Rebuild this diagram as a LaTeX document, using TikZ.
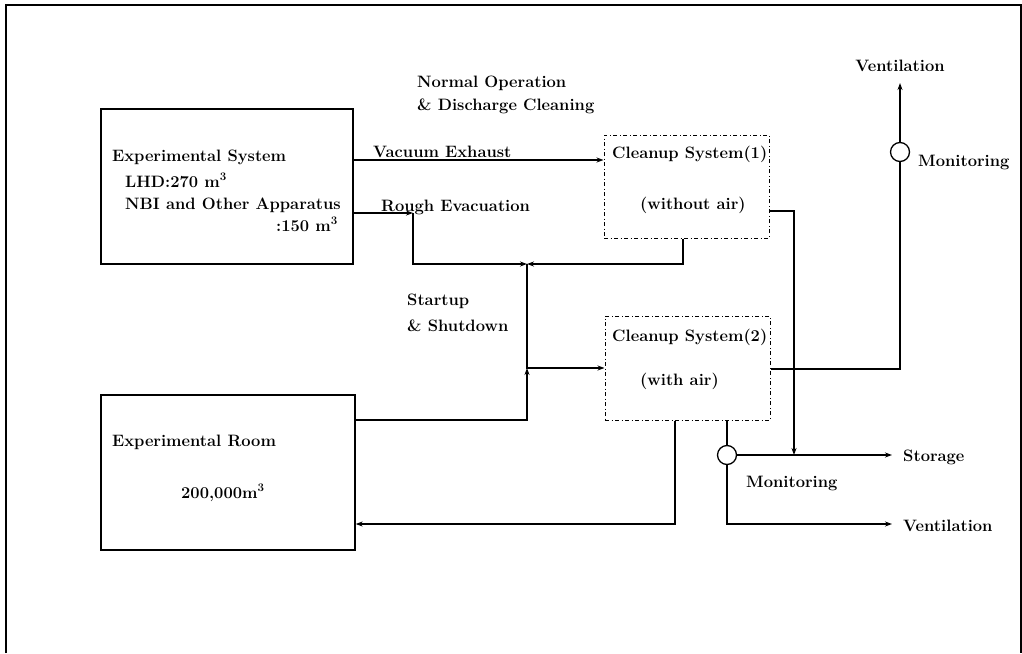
\documentclass[tikz,border=0pt]{standalone}
\usetikzlibrary{arrows.meta}
\begin{document}
\begin{tikzpicture}[x=1pt,y=-1pt,
  lbl/.style={anchor=base west,inner sep=0pt,font=\fontsize{16.5}{19}\selectfont\bfseries},
  solidbox/.style={draw,line width=1.3pt,rectangle,inner sep=0pt},
  cleanbox/.style={draw,line width=1pt,rectangle,inner sep=0pt,dash pattern=on 4pt off 2.5pt on 1pt off 2.5pt},
  mon/.style={draw,line width=1.3pt,circle,minimum size=19pt,inner sep=0pt,fill=white},
  conn/.style={line width=1.3pt},
  arr/.style={conn,-{Stealth[length=7pt,width=5pt]}}]
\useasboundingbox (0,0) rectangle (1022,653);
% outer frame
\draw[line width=1.3pt] (6,653) -- (6,5) -- (1021,5) -- (1021,653);
% boxes
\node[solidbox,minimum width=252pt,minimum height=155pt] (es) at (227,186.5) {};
\node[solidbox,minimum width=254pt,minimum height=155pt] (room) at (228,472.5) {};
\node[cleanbox,minimum width=165pt,minimum height=103pt] (cs1) at (686.5,186.5) {};
\node[cleanbox,minimum width=165pt,minimum height=104pt] (cs2) at (687.5,368) {};
\node[mon] (mon1) at (900,152) {};
\node[mon] (mon2) at (727,455) {};
% helper coordinates
\coordinate (ve) at (0,160);
\coordinate (re) at (413,213);
\coordinate (j1) at (527,264);
\coordinate (j2) at (527,368);
\coordinate (rm) at (0,420);
\coordinate (rt) at (0,524);
\coordinate (c1r) at (0,211);
\coordinate (st1) at (794,455);
\coordinate (sto) at (892,455);
\coordinate (ven) at (892,524);
\coordinate (vtop) at (900,83);
\coordinate (c2r) at (900,369);
% texts
\node[lbl] (t1) at (112,161) {Experimental System};
\node[lbl] (t2) at (125,187) {LHD:270 m\textsuperscript{3}};
\node[lbl] (t3) at (125,209) {NBI and Other Apparatus};
\node[lbl,anchor=base east] (t4) at (338,231) {:150 m\textsuperscript{3}};
\node[lbl] (t5) at (112,446) {Experimental Room};
\node[lbl] (t6) at (181,498) {200,000m\textsuperscript{3}};
\node[lbl] (t7) at (417,87) {Normal Operation};
\node[lbl] (t8) at (417,110) {\& Discharge Cleaning};
\node[lbl] (t9) at (373,157) {Vacuum Exhaust};
\node[lbl] (t10) at (381,211) {Rough Evacuation};
\node[lbl] (t11) at (407,305) {Startup};
\node[lbl] (t12) at (407,331) {\& Shutdown};
\node[lbl] (t13) at (612,158) {Cleanup System(1)};
\node[lbl] (t14) at (640,209) {(without air)};
\node[lbl] (t15) at (612,341) {Cleanup System(2)};
\node[lbl] (t16) at (640,385) {(with air)};
\node[lbl,anchor=base] (t17) at (900,71) {Ventilation};
\node[lbl] (t18) at (918,166) {Monitoring};
\node[lbl] (t19) at (903,461) {Storage};
\node[lbl] (t20) at (746,487) {Monitoring};
\node[lbl] (t21) at (903,531) {Ventilation};
% connectors
\draw[arr] (es.east |- ve) -- (cs1.west |- ve);
\draw[arr] (es.east |- re) -- (re);
\draw[arr] (re) |- (j1);
\draw[arr] ([xshift=-3.5pt]cs1.south) |- (j1);
\draw[arr] (j1) |- (cs2.west);
\draw[arr] (room.east |- rm) -| (j2);
\draw[arr] ([xshift=-12.5pt]cs2.south) |- (room.east |- rt);
\draw[conn] ([xshift=39.5pt]cs2.south) -- (mon2.north);
\draw[arr] (mon2.east) -- (sto);
\draw[arr] (cs1.east |- c1r) -| (st1);
\draw[arr] (mon2.south) |- (ven);
\draw[conn] (cs2.east |- c2r) -| (mon1.south);
\draw[arr] (mon1.north) -- (vtop);
\end{tikzpicture}
\end{document}
